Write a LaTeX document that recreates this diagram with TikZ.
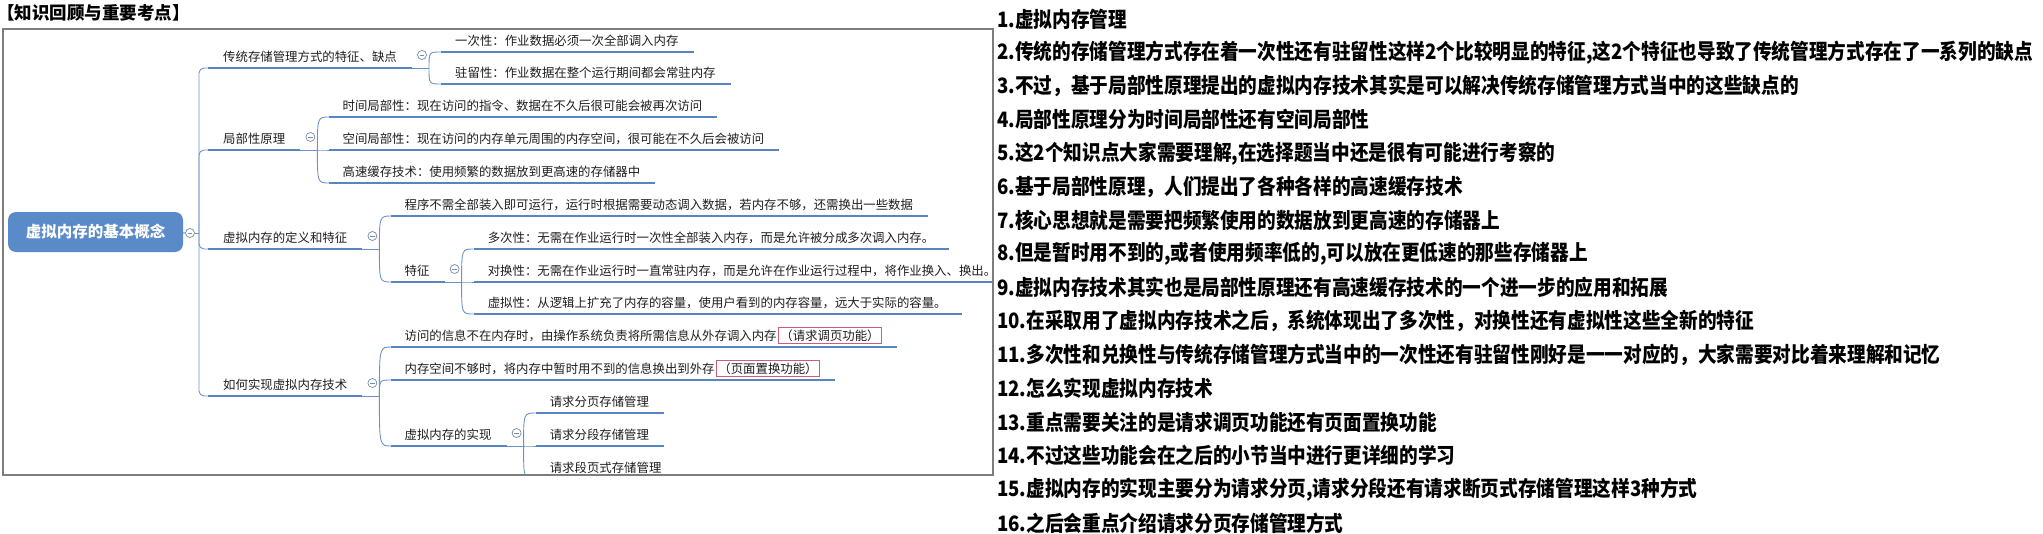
\documentclass[tikz,border=0pt]{standalone}
\usepackage{fontspec}
\setmainfont{Noto Sans CJK SC}
\newfontfamily\mmlistfont{Noto Sans CJK SC}[FakeStretch=0.88]
\usetikzlibrary{calc}
\definecolor{ulblue}{RGB}{88,132,194}
\definecolor{lnblue}{RGB}{110,146,200}
\definecolor{rootblue}{RGB}{91,138,200}
\definecolor{frgray}{RGB}{125,125,125}
\definecolor{boxred}{RGB}{206,92,122}
\definecolor{btngray}{RGB}{118,138,170}
\definecolor{txtdark}{RGB}{30,30,30}
\setlength\fboxsep{1.5pt}
\setlength\fboxrule{0.8pt}
\newcommand\mmredbox[1]{\hspace{1.5pt}\fcolorbox{boxred}{white}{#1}}
\newcommand\mmnode[5]{%
  \coordinate (#1s) at (#2 |- 0,#3);
  \node[topic] (#1) at ([xshift=#4pt]#1s) {#5};
  \coordinate (#1e) at ([xshift=15pt]#1.south east);
  \draw[ul] (#1s) -- (#1e);
}
\newcommand\mmfold[1]{%
  \coordinate (#1j) at ([xshift=17pt]#1e);
  \coordinate (#1k) at ([xshift=12pt]#1j);
  \draw[conn] (#1e) -- (#1j);
  \node[btn] (#1b) at ([xshift=10pt,yshift=13pt]#1e) {};
}
\newcommand\mmlink[2]{\draw[conn] (#1j) .. controls (#1j |- #2s) .. (#2s);}
\tikzset{
  topic/.style={anchor=south west, inner xsep=0pt, inner ysep=0pt, text depth=6.7pt,
    font=\fontsize{12.4pt}{14pt}\selectfont, text=txtdark},
  ul/.style={draw=ulblue, line width=2.6pt},
  conn/.style={draw=lnblue, line width=0.9pt},
  btn/.style={circle, draw=btngray, line width=0.7pt, fill=white, minimum size=9pt, inner sep=0pt,
    path picture={\draw[btngray, line width=0.7pt] ([xshift=-2.4pt]path picture bounding box.center) -- ([xshift=2.4pt]path picture bounding box.center);}},
  rootbox/.style={rectangle, rounded corners=8pt, fill=rootblue, minimum width=175pt, minimum height=40pt, inner sep=0pt, text=white, font=\fontsize{15.5pt}{18pt}\selectfont\bfseries},
  listline/.style={anchor=west, inner sep=0pt, font=\mmlistfont\fontsize{21.2pt}{24pt}\selectfont\bfseries, text=black},
  titletext/.style={anchor=west, inner sep=0pt, font=\fontsize{17.5pt}{20pt}\selectfont\bfseries, text=black},
}
\begin{document}
\begin{tikzpicture}[x=1pt, y=-1pt]
\useasboundingbox (0,0) rectangle (2043,533);
\node[titletext] (title) at (-3,12.5) {【知识回顾与重要考点】};

\begin{scope}
\clip (3,29) rectangle (993,475);
\node[rootbox] (root) at (95.5,232) {虚拟内存的基本概念};
\node[btn] (rootb) at (190,233) {};
\coordinate (tr) at (199,233);
\coordinate (L1k) at (208,0);
\draw[conn] (root) -- (rootb);
\draw[conn] (rootb) -- (tr);

\mmnode{a}{L1k}{68}{15}{传统存储管理方式的特征、缺点}
\mmnode{b}{L1k}{150}{15}{局部性原理}
\mmnode{c}{L1k}{249}{15}{虚拟内存的定义和特征}
\mmnode{d}{L1k}{396}{15}{如何实现虚拟内存技术}
\draw[conn, rounded corners=5pt] (tr) -- (tr |- as) -- (as);
\draw[conn, rounded corners=5pt] (tr) -- (tr |- bs) -- (bs);
\draw[conn, rounded corners=5pt] (tr) -- (tr |- cs) -- (cs);
\draw[conn, rounded corners=5pt] (tr) -- (tr |- ds) -- (ds);

\mmfold{a}
\mmnode{a1}{ak}{52}{14}{一次性：作业数据必须一次全部调入内存}
\mmnode{a2}{ak}{84}{14}{驻留性：作业数据在整个运行期间都会常驻内存}
\mmlink{a}{a1}\mmlink{a}{a2}

\mmfold{b}
\mmnode{b1}{bk}{117}{13}{时间局部性：现在访问的指令、数据在不久后很可能会被再次访问}
\mmnode{b2}{bk}{150}{13}{空间局部性：现在访问的内存单元周围的内存空间，很可能在不久后会被访问}
\mmnode{b3}{bk}{183}{13}{高速缓存技术：使用频繁的数据放到更高速的存储器中}
\mmlink{b}{b1}\mmlink{b}{b2}\mmlink{b}{b3}

\mmfold{c}
\mmnode{c1}{ck}{216}{13}{程序不需全部装入即可运行，运行时根据需要动态调入数据，若内存不够，还需换出一些数据}
\mmnode{c2}{ck}{282}{13}{特征}
\mmlink{c}{c1}\mmlink{c}{c2}

\mmfold{c2}
\mmnode{c21}{c2k}{249}{14}{多次性：无需在作业运行时一次性全部装入内存，而是允许被分成多次调入内存。}
\mmnode{c22}{c2k}{282}{14}{对换性：无需在作业运行时一直常驻内存，而是允许在作业运行过程中，将作业换入、换出。}
\mmnode{c23}{c2k}{314}{14}{虚拟性：从逻辑上扩充了内存的容量，使用户看到的内存容量，远大于实际的容量。}
\mmlink{c2}{c21}\mmlink{c2}{c22}\mmlink{c2}{c23}

\mmfold{d}
\mmnode{d1}{dk}{347}{13}{访问的信息不在内存时，由操作系统负责将所需信息从外存调入内存\mmredbox{（请求调页功能）}}
\mmnode{d2}{dk}{380}{13}{内存空间不够时，将内存中暂时用不到的信息换出到外存\mmredbox{（页面置换功能）}}
\mmnode{d3}{dk}{446}{13}{虚拟内存的实现}
\mmlink{d}{d1}\mmlink{d}{d2}\mmlink{d}{d3}

\mmfold{d3}
\mmnode{d31}{d3k}{413}{14}{请求分页存储管理}
\mmnode{d32}{d3k}{446}{14}{请求分段存储管理}
\mmnode{d33}{d3k}{479}{14}{请求段页式存储管理}
\mmlink{d3}{d31}\mmlink{d3}{d32}\mmlink{d3}{d33}
\end{scope}
\draw[frgray, line width=1.2pt] (3,29) rectangle (993,475);

\node[listline] (l1) at (997,19) {1.虚拟内存管理};
\node[listline] (l2) at (997,52.6) {2.传统的存储管理方式存在着一次性还有驻留性这样2个比较明显的特征,这2个特征也导致了传统管理方式存在了一系列的缺点};
\node[listline] (l3) at (997,86.2) {3.不过，基于局部性原理提出的虚拟内存技术其实是可以解决传统存储管理方式当中的这些缺点的};
\node[listline] (l4) at (997,119.8) {4.局部性原理分为时间局部性还有空间局部性};
\node[listline] (l5) at (997,153.4) {5.这2个知识点大家需要理解,在选择题当中还是很有可能进行考察的};
\node[listline] (l6) at (997,187) {6.基于局部性原理，人们提出了各种各样的高速缓存技术};
\node[listline] (l7) at (997,220.6) {7.核心思想就是需要把频繁使用的数据放到更高速的存储器上};
\node[listline] (l8) at (997,254.2) {8.但是暂时用不到的,或者使用频率低的,可以放在更低速的那些存储器上};
\node[listline] (l9) at (997,287.8) {9.虚拟内存技术其实也是局部性原理还有高速缓存技术的一个进一步的应用和拓展};
\node[listline] (l10) at (997,321.4) {10.在采取用了虚拟内存技术之后，系统体现出了多次性，对换性还有虚拟性这些全新的特征};
\node[listline] (l11) at (997,355) {11.多次性和兑换性与传统存储管理方式当中的一次性还有驻留性刚好是一一对应的，大家需要对比着来理解和记忆};
\node[listline] (l12) at (997,388.6) {12.怎么实现虚拟内存技术};
\node[listline] (l13) at (997,422.2) {13.重点需要关注的是请求调页功能还有页面置换功能};
\node[listline] (l14) at (997,455.8) {14.不过这些功能会在之后的小节当中进行更详细的学习};
\node[listline] (l15) at (997,489.4) {15.虚拟内存的实现主要分为请求分页,请求分段还有请求断页式存储管理这样3种方式};
\node[listline] (l16) at (997,523) {16.之后会重点介绍请求分页存储管理方式};
\end{tikzpicture}
\end{document}
